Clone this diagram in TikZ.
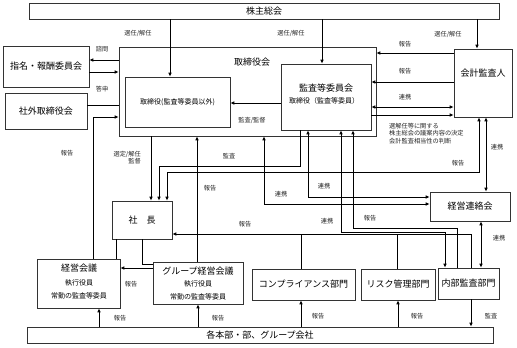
\documentclass[tikz,border=0pt]{standalone}
\usepackage{fontspec}
\setmainfont{Noto Sans CJK JP}
\usetikzlibrary{arrows.meta}
\begin{document}
\begin{tikzpicture}[x=1pt,y=-1pt,
 box/.style={draw=black!80, line width=0.6pt, inner sep=0pt, font=\fontsize{9}{10}\selectfont},
 arr/.style={line width=0.9pt, -{Latex[length=4pt,width=3.6pt]}},
 darr/.style={line width=0.9pt, {Latex[length=4pt,width=3.6pt]}-{Latex[length=4pt,width=3.6pt]}},
 ln/.style={line width=0.9pt},
 lab/.style={font=\fontsize{6.2}{7.5}\selectfont, text=black!85, inner sep=0pt},
 ttl/.style={font=\fontsize{9}{10}\selectfont, inner sep=0pt},
 sub/.style={font=\fontsize{7}{8}\selectfont, inner sep=0pt}]
\useasboundingbox (0,0) rectangle (517,348);
\fill[white] (0,0) rectangle (517,348);
% helper coordinates
\foreach \v in {93,99,116,142,151,159,167,170,197,198,264,300,301,308,322,341,353,397,398,445,457,471,477,479,481,486}
  {\coordinate (c\v) at (\v,0);}
\foreach \v in {53,60,72,82,103,105,107,115,117,166,172,197,204,228,232,234,264,268}
  {\coordinate (r\v) at (0,\v);}
% boxes
\node[box, minimum width=470pt, minimum height=16pt] (kabu) at (264,11) {株主総会};
\node[box, minimum width=257pt, minimum height=89pt] (torikai) at (247.5,91.5) {};
\node[ttl] (torikaiT) at (252,62) {取締役会};
\node[box, minimum width=105pt, minimum height=50pt, font=\fontsize{7}{8}\selectfont] (tori) at (177.5,102) {取締役(監査等委員以外)};
\node[box, minimum width=90pt, minimum height=66pt] (kansa) at (326,97) {};
\node[ttl] (kansaT) at (326,88) {監査等委員会};
\node[sub] (kansaS) at (324,100.5) {取締役（監査等委員）};
\node[box, minimum width=58pt, minimum height=68pt] (kaikei) at (483,83) {};
\node[ttl] (kaikeiT) at (483,73) {会計監査人};
\node[box, minimum width=86pt, minimum height=41pt] (shimei) at (46,66.5) {指名・報酬委員会};
\node[box, minimum width=82pt, minimum height=36pt] (shagai) at (46,111) {社外取締役会};
\node[box, minimum width=60pt, minimum height=38pt] (shacho) at (142,220) {社　長};
\node[box, minimum width=83pt, minimum height=49pt] (keieikaigi) at (78.5,283.5) {};
\node[ttl] (keieiT) at (79,268) {経営会議};
\node[sub] (keieiS1) at (79,283) {執行役員};
\node[sub] (keieiS2) at (79,295.5) {常勤の監査等委員};
\node[box, minimum width=90pt, minimum height=42pt] (group) at (198,283) {};
\node[ttl] (groupT) at (198,271) {グループ経営会議};
\node[sub] (groupS1) at (198,284) {執行役員};
\node[sub] (groupS2) at (198,296.5) {常勤の監査等委員};
\node[box, minimum width=103pt, minimum height=31pt] (comp) at (303.5,284.5) {コンプライアンス部門};
\node[box, minimum width=74pt, minimum height=31pt] (risk) at (398,284.5) {リスク管理部門};
\node[box, minimum width=61pt, minimum height=31pt] (naibu) at (468.5,283.5) {内部監査部門};
\node[box, minimum width=80pt, minimum height=29pt] (renraku) at (470,206.5) {経営連絡会};
\node[box, minimum width=466pt, minimum height=16pt] (kakubu) at (260,335) {各本部・部、グループ会社};
% connectors
\draw[arr] (kabu.south -| c170) -- (tori.north -| c170);
\draw[arr] (kabu.south -| c322) -- (kansa.north -| c322);
\draw[arr] (kabu.south -| c477) -- (kaikei.north -| c477);
\draw[arr] (torikai.west |- r60) -- (shimei.east |- r60);
\draw[arr] (shimei.east |- r72) -- (torikai.west |- r72);
\draw[ln] (shagai.east |- r105) -- (torikai.west |- r105);
\draw[arr] (keieikaigi.north -| c93) -- (c93 |- r117) -- (torikai.west |- r117);
\draw[arr] (kaikei.west |- r53) -- (torikai.east |- r53);
\draw[arr] (kaikei.west |- r82) -- (kansa.east |- r82);
\draw[darr] (kansa.east |- r107) -- (kaikei.west |- r107);
\draw[arr] (kansa.east |- r115) -- (kaikei.west |- r115);
\draw[arr] (kansa.west |- r103) -- (tori.east |- r103);
\draw[arr] (torikai.south -| c151) -- (shacho.north -| c151);
\draw[arr] (kansa.south -| c300) -- (c300 |- r166) -- (c159 |- r166) -- (shacho.north -| c159);
\draw[darr] (kaikei.south -| c479) -- (c479 |- r172) -- (c167 |- r172) -- (shacho.north -| c167);
\draw[arr] (group.north -| c197) -- (torikai.south -| c197);
\draw[darr] (kansa.south -| c308) -- (c308 |- r197) -- (renraku.west |- r197);
\draw[darr] (torikai.south -| c264) -- (c264 |- r204) -- (renraku.west |- r204);
\draw[darr] (kaikei.south -| c486) -- (renraku.north -| c486);
\draw[darr] (renraku.south -| c481) -- (naibu.north -| c481);
\draw[darr] (naibu.north -| c445) -- (c445 |- r232) -- (c341 |- r232) -- (kansa.south -| c341);
\draw[arr] (naibu.north -| c457) -- (c457 |- r228) -- (c353 |- r228) -- (kansa.south -| c353);
\draw[arr] (naibu.north -| c471) -- (c471 |- r234) -- (shacho.east |- r234);
\draw[ln] (comp.north -| c301) -- (c301 |- r234);
\draw[ln] (risk.north -| c397) -- (c397 |- r234);
\draw[ln] (shacho.south -| c116) -- (keieikaigi.north -| c116);
\draw[ln] (shacho.south -| c142) -- (c142 |- r264) -- (group.west |- r264);
\draw[arr] (group.west |- r268) -- (keieikaigi.east |- r268);
\draw[arr] (kakubu.north -| c99) -- (keieikaigi.south -| c99);
\draw[arr] (kakubu.north -| c198) -- (group.south -| c198);
\draw[arr] (kakubu.north -| c301) -- (comp.south -| c301);
\draw[arr] (kakubu.north -| c398) -- (risk.south -| c398);
\draw[arr] (naibu.south -| c471) -- (kakubu.north -| c471);
% labels
\node[lab] (l1) at (138,33) {選任/解任};
\node[lab] (l2) at (291,33) {選任/解任};
\node[lab] (l3) at (448,34) {選任/解任};
\node[lab] (l4) at (102,49) {諮問};
\node[lab] (l5) at (102,89) {答申};
\node[lab] (l6) at (67,153) {報告};
\node[lab] (l7) at (405,44) {報告};
\node[lab] (l8) at (405,71) {報告};
\node[lab] (l9) at (405,97) {連携};
\node[lab, anchor=north west, align=left] (l10) at (389,123) {選解任等に関する\\株主総会の議案内容の決定\\会計監査相当性の判断};
\node[lab] (l11) at (252,120) {監査/監督};
\node[lab, anchor=east, align=right] (l12) at (141,157.5) {選定/解任\\監督};
\node[lab] (l13) at (229,156) {監査};
\node[lab] (l14) at (458,163) {報告};
\node[lab] (l15) at (210,188) {報告};
\node[lab] (l16) at (324,186) {連携};
\node[lab] (l17) at (281,194) {連携};
\node[lab] (l18) at (497,147) {連携};
\node[lab] (l19) at (499,238) {連携};
\node[lab] (l20) at (327,221) {連携};
\node[lab] (l21) at (370,218) {報告};
\node[lab] (l22) at (245,224) {報告};
\node[lab] (l23) at (131,284) {報告};
\node[lab] (l24) at (120,318) {報告};
\node[lab] (l25) at (218,318) {報告};
\node[lab] (l26) at (318,316) {報告};
\node[lab] (l27) at (417,316) {報告};
\node[lab] (l28) at (491,316) {監査};
\end{tikzpicture}
\end{document}
